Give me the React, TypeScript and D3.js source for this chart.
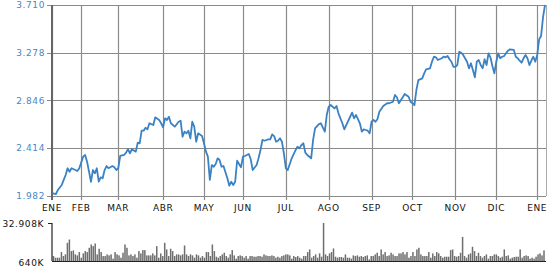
import React from "react";
import * as d3 from "d3";

const priceDays = [0,2,3,5,7,8,9,10,12,13,14,16,17,18,19,20,21,22,23,24,25,26,27,28,29,31,32,33,34,35,37,38,39,40,41,43,44,45,46,47,48,49,50,52,53,55,56,57,58,59,60,61,63,65,66,67,68,69,70,71,72,73,74,75,77,78,79,80,81,82,83,84,85,86,87,88,90,91,92,93,94,95,97,98,99,101,102,103,105,106,107,108,109,111,112,113,114,115,116,117,118,119,120,121,123,125,126,127,128,129,130,131,133,134,135,137,138,140,141,142,143,145,146,147,149,150,151,153,154,155,156,158,159,160,161,162,163,164,165,166,167,168,170,172,173,175,176,177,178,180,181,183,184,185,186,187,188,190,191,192,194,195,196,197,198,200,201,202,203,204,205,206,207,208,209,210,211,213,214,215,216,217,218,219,220,221,222,223,224,225,226,227,228,229,230,231,232,233,234,235,237,238,239,240,241,242,243,244,245,246,247,248,249,250,251,252,253];
const priceClose = [2.009,2.000,2.036,2.082,2.172,2.233,2.202,2.233,2.217,2.208,2.233,2.338,2.353,2.292,2.202,2.111,2.217,2.187,2.233,2.111,2.151,2.142,2.217,2.253,2.233,2.253,2.242,2.217,2.233,2.344,2.353,2.374,2.405,2.368,2.405,2.383,2.464,2.459,2.573,2.573,2.600,2.585,2.640,2.624,2.694,2.670,2.640,2.604,2.685,2.670,2.699,2.640,2.609,2.654,2.663,2.518,2.564,2.549,2.573,2.504,2.654,2.609,2.473,2.549,2.525,2.459,2.383,2.338,2.127,2.262,2.247,2.272,2.323,2.308,2.247,2.253,2.142,2.075,2.111,2.082,2.111,2.301,2.242,2.338,2.344,2.362,2.314,2.217,2.262,2.323,2.398,2.489,2.482,2.494,2.494,2.539,2.524,2.473,2.482,2.504,2.473,2.368,2.233,2.217,2.323,2.398,2.428,2.413,2.443,2.459,2.374,2.353,2.323,2.489,2.594,2.633,2.640,2.564,2.715,2.790,2.805,2.775,2.796,2.730,2.640,2.585,2.624,2.699,2.736,2.685,2.715,2.640,2.564,2.585,2.579,2.573,2.549,2.654,2.670,2.654,2.676,2.745,2.796,2.821,2.821,2.835,2.896,2.875,2.821,2.875,2.905,2.880,2.835,2.821,2.805,2.941,3.030,3.046,3.092,3.128,3.137,3.197,3.242,3.237,3.212,3.228,3.242,3.237,3.248,3.219,3.197,3.151,3.151,3.167,3.287,3.278,3.258,3.197,3.137,3.183,3.122,3.056,3.197,3.212,3.167,3.137,3.219,3.167,3.273,3.237,3.158,3.092,3.197,3.273,3.228,3.242,3.248,3.273,3.297,3.309,3.303,3.242,3.228,3.206,3.188,3.228,3.258,3.228,3.167,3.206,3.242,3.197,3.258,3.400,3.430,3.600,3.710];

// volume in thousands
const volumes = [
4850,3450,3450,3450,8220,4850,6250,16070,18880,9060,9620,6250,5410,8220,3450,7090,9060,8220,11860,14670,13270,15510,6250,11020,8220,4850,4850,6250,5410,6250,2600,8220,6250,5410,3450,7660,14670,11860,5410,6250,4850,6250,3450,9060,7090,9900,9900,5410,5410,5410,7090,5410,13270,3450,7090,4850,16070,10460,4850,11020,9060,4850,6250,6250,5410,6250,13830,6250,4850,6250,5410,3450,6250,5410,3450,4850,3450,8220,8220,4850,14670,9060,4290,3450,4850,
6250,7660,4850,3450,6250,9900,5410,2600,4850,5410,4850,3450,4850,2600,4850,4850,4290,4290,4850,4850,4290,6250,5410,4850,4850,5410,4850,3450,4290,3450,4850,5410,6250,6250,5410,2600,4850,4010,4850,3450,2600,4850,4850,8220,10460,3450,4850,6250,3450,7090,4290,32908,6250,4850,7090,8220,11300,4290,3450,4010,4010,3450,6250,3450,3450,2600,5410,4850,5410,4290,4850,4010,4850,5410,2040,4850,4850,6250,7660,4850,10460,
6250,8220,4850,5410,7660,6250,4850,4850,7090,7090,8220,6250,8220,3450,4850,8220,4850,10460,11860,6250,4850,4850,4850,8220,3450,7090,4850,8220,7090,4850,3450,4290,4290,4290,9900,10460,4850,4290,4850,7660,21120,4850,3450,6250,7090,12710,9060,4850,7660,4850,3450,4850,6250,2600,4850,4850,6250,6250,4850,3450,4290,10460,4850,5410,2600,3450,4010,4290,4290,10460,3450,4850,5410,4850,2600,3450,2600,4290,6250,7090,5410,9620
];

const monthLabels = ["ENE","FEB","MAR","ABR","MAY","JUN","JUL","AGO","SEP","OCT","NOV","DIC","ENE"];
const monthDays = [0,15,34,57,78,98,120,142,164,185,207,228,249];
const priceTicks = [1.982, 2.414, 2.846, 3.278, 3.710];
const volumeMin = 640;
const volumeMax = 32908;
const volumeLabels = ["32.908K", "640K"];

export default function App() {
  const W = 550, H = 267;
  const left = 52, right = 545, top = 5, bottom = 196;
  const vTop = 223, vBottom = 261;
  const x = d3.scaleLinear().domain([0, 253]).range([left, right]);
  const y = d3.scaleLinear().domain([1.982, 3.710]).range([bottom, top]);
  const xv = d3.scaleLinear().domain([0, volumes.length - 1]).range([left + 1.5, right - 1]);
  const yv = d3.scaleLinear().domain([volumeMin, volumeMax]).range([vBottom, vTop]);
  const pts = priceDays.map((d, i) => [d, priceClose[i]] as [number, number]);
  const line = d3.line<[number, number]>().x(p => x(p[0])).y(p => y(p[1]));
  const fmt = (v: number) => v.toFixed(3);
  const font = "'DejaVu Sans', Verdana, sans-serif";
  const grid = "#8a8a8a";
  return (
    <svg width={W} height={H} style={{ position: "absolute", left: 0, top: 0, background: "#fff" }}
      fontFamily={font} fontSize={9} letterSpacing={0.6}>
      {priceTicks.map((t, i) => (
        <g key={"py" + i}>
          <line x1={left - 5} x2={right + 1} y1={Math.round(y(t)) + 0.5} y2={Math.round(y(t)) + 0.5} stroke={grid} strokeWidth={1.2} />
          <text x={45} y={y(t)} dy="0.35em" textAnchor="end" fill="#4a86c6">{fmt(t)}</text>
        </g>
      ))}
      {monthDays.map((d, i) => (
        <g key={"mx" + i}>
          <line x1={Math.round(x(d)) + 0.5} x2={Math.round(x(d)) + 0.5} y1={top} y2={bottom + 4} stroke={grid} strokeWidth={1.2} />
          <text x={x(d)} y={211} textAnchor="middle" fill="#111">{monthLabels[i]}</text>
        </g>
      ))}
      <line x1={right + 1.5} x2={right + 1.5} y1={top} y2={bottom} stroke="#aaa" strokeWidth={1} />
      <line x1={left} x2={left} y1={top} y2={bottom + 4} stroke="#666" strokeWidth={2} />
      <path d={line(pts) || ""} fill="none" stroke="#3b82c4" strokeWidth={1.8} strokeLinejoin="round" />
      {volumes.map((v, i) => (
        <rect key={"v" + i} x={xv(i) - 0.75} y={yv(v)} width={1.5} height={vBottom - yv(v)} fill="#6e6e6e" />
      ))}
      <line x1={left} x2={right + 1} y1={vBottom + 0.5} y2={vBottom + 0.5} stroke="#222" strokeWidth={1} />
      <line x1={left} x2={left} y1={vTop} y2={vBottom} stroke="#222" strokeWidth={1.2} />
      <line x1={left - 4} x2={left} y1={vTop + 0.5} y2={vTop + 0.5} stroke="#222" strokeWidth={1} />
      <text x={44} y={vTop} dy="0.4em" textAnchor="end" fill="#111">{volumeLabels[0]}</text>
      <text x={44} y={vBottom + 1} dy="0.4em" textAnchor="end" fill="#111">{volumeLabels[1]}</text>
    </svg>
  );
}
